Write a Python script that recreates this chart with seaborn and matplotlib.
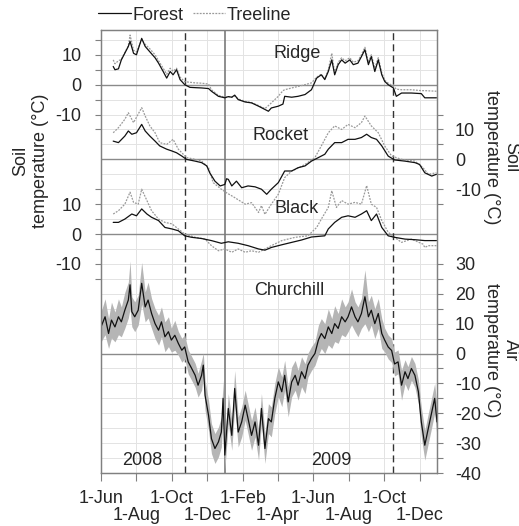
import numpy as np
import pandas as pd
import matplotlib
matplotlib.use("Agg")
import matplotlib.pyplot as plt
from matplotlib.lines import Line2D
import seaborn as sns

# ---------------- data (days since 1-Jun-2008, temperatures in degC) ----------------
START = "2008-06-01"
END = "2009-12-31"

tick_dates = ["2008-06-01", "2008-08-01", "2008-10-01", "2008-12-01", "2009-02-01",
              "2009-04-01", "2009-06-01", "2009-08-01", "2009-10-01", "2009-12-01"]
tick_labels = ["1-Jun", "1-Aug", "1-Oct", "1-Dec", "1-Feb", "1-Apr", "1-Jun", "1-Aug", "1-Oct", "1-Dec"]
freeze_dates = ["2008-10-24", "2009-10-17"]
year_break = "2009-01-01"
year_labels = ["2008", "2009"]
site_names = ["Ridge", "Rocket", "Black", "Churchill"]
series_names = ["Forest", "Treeline"]

ridge_days = [21, 24, 30, 35, 47, 50, 56, 61, 70, 76, 84, 93, 99, 107, 113, 119, 124, 130, 136, 144,
              153, 162, 173, 185, 190, 202, 213, 219, 225, 230, 236, 248, 259, 271, 282, 288, 293, 305, 313, 316,
              328, 339, 351, 362, 371, 379, 385, 391, 397, 402, 408, 414, 420, 428, 434, 442, 448, 454, 460, 465,
              471, 477, 483, 488, 494, 503, 508, 517, 534, 551, 557, 577]
ridge_forest = [6.1, 5.0, 5.3, 8.3, 12.8, 14.5, 10.5, 10.0, 15.5, 12.8,
                11.0, 9.0, 7.2, 4.4, 2.2, 4.4, 3.3, 5.0, 1.7, 0.0,
                -0.9, -1.0, -1.1, -1.3, -2.2, -3.9, -4.4, -4.0, -4.2, -3.5,
                -5.0, -5.8, -6.1, -7.2, -8.3, -8.9, -7.8, -7.2, -6.5, -3.9,
                -4.2, -3.9, -3.3, -1.7, 2.2, 3.3, 1.7, 4.4, 8.3, 3.3,
                6.7, 8.3, 7.2, 8.3, 6.7, 7.2, 9.4, 11.7, 6.7, 9.4,
                4.4, 8.3, 3.3, 1.1, 0.0, -1.1, -3.9, -2.8, -2.8, -3.0,
                -4.4, -4.4]
ridge_treeline = [8.3, 7.0, 8.0, 8.5, 13.0, 16.6, 11.5, 11.0, 15.0, 13.5,
                  12.0, 10.0, 8.0, 5.5, 3.5, 5.5, 4.5, 5.5, 2.5, 1.0,
                  0.8, 0.6, 0.5, 0.2, -1.7, -3.6, -4.2, -4.0, -4.2, -3.8,
                  -4.8, -5.6, -6.0, -7.0, -8.0, -7.0, -6.1, -3.9, -2.0, -1.7,
                  -1.1, -0.6, 0.0, 0.6, 2.5, 3.5, 2.0, 5.0, 10.5, 4.0,
                  7.5, 9.0, 8.0, 9.0, 7.5, 8.0, 10.0, 12.5, 7.5, 10.0,
                  5.5, 9.0, 4.0, 1.5, 0.5, -0.5, -1.5, -1.7, -1.7, -2.0,
                  -2.0, -2.2]

rocket_forest_days = [21, 30, 41, 47, 53, 61, 70, 76, 84, 93, 101, 113, 122, 130, 139, 147, 162, 173, 182, 187,
                      196, 205, 213, 216, 219, 225, 233, 242, 253, 265, 276, 285, 293, 305, 316, 328, 339, 351, 362, 374,
                      385, 391, 402, 414, 425, 437, 448, 457, 465, 474, 483, 494, 505, 523, 540, 548, 557, 569, 577]
rocket_forest = [6.1, 5.6, 7.8, 9.5, 8.4, 8.9, 11.7, 9.5, 7.8, 6.1,
                 4.5, 3.4, 2.8, 2.2, 1.1, 0.0, -0.6, -1.1, -2.2, -4.5,
                 -7.3, -8.9, -8.4, -6.5, -6.7, -8.9, -7.3, -9.5, -8.9, -9.2,
                 -10.0, -11.7, -10.0, -7.8, -3.9, -3.9, -2.8, -2.2, -0.6, 0.6,
                 1.7, 3.4, 5.6, 5.6, 6.7, 6.7, 7.3, 8.4, 7.3, 6.7,
                 4.5, 1.1, -0.2, -0.6, -1.1, -1.7, -4.5, -5.6, -5.0]
rocket_tl_days = [21, 30, 41, 47, 56, 70, 76, 84, 93, 101, 113, 124, 133, 147, 162, 173, 185, 193, 207, 216,
                  230, 248, 259, 271, 276, 282, 293, 305, 316, 328, 334, 351, 368, 379, 391, 402, 414, 425, 437, 448,
                  454, 465, 477, 488, 500, 517, 540, 554, 563, 577]
rocket_treeline = [8.9, 10.6, 13.4, 15.6, 12.3, 17.3, 14.5, 11.2, 8.9, 5.6,
                   5.0, 6.7, 3.4, 0.6, 0.0, -0.6, -2.8, -7.8, -10.0, -11.2,
                   -12.8, -15.0, -14.5, -17.8, -15.5, -18.4, -15.0, -11.7, -6.1, -3.9,
                   -3.4, -1.7, 0.6, 4.5, 8.9, 11.2, 10.0, 11.7, 10.6, 12.3,
                   14.5, 11.2, 8.9, 4.5, 1.1, 0.0, -0.6, -2.8, -5.0, -4.5]

black_forest_days = [21, 30, 41, 53, 61, 70, 79, 87, 99, 110, 122, 133, 144, 156, 173, 190, 207, 219, 236, 253,
                     271, 282, 293, 311, 328, 345, 362, 385, 391, 402, 414, 425, 437, 448, 457, 465, 474, 483, 494, 505,
                     523, 540, 557, 577]
black_forest = [3.9, 3.9, 5.0, 6.7, 6.1, 8.4, 6.7, 5.6, 4.5, 2.2,
                1.7, 1.1, -0.6, -1.1, -1.5, -2.2, -3.1, -2.6, -3.1, -3.9,
                -5.0, -5.4, -4.5, -3.6, -2.8, -2.0, -1.0, -0.6, 1.7, 3.9,
                5.6, 6.1, 5.6, 6.7, 7.8, 4.5, 6.7, 2.2, -0.6, -1.1,
                -1.7, -1.9, -2.2, -2.2]
black_tl_days = [21, 30, 41, 50, 56, 64, 70, 79, 87, 99, 110, 122, 133, 144, 162, 179, 190, 202, 213, 225,
                 236, 248, 259, 271, 282, 293, 311, 334, 356, 371, 379, 391, 397, 405, 414, 425, 437, 448, 457, 465,
                 474, 483, 494, 505, 517, 534, 554, 557, 563, 577]
black_treeline = [6.7, 7.8, 10.0, 14.0, 10.6, 10.0, 15.0, 11.2, 7.8, 5.0,
                  3.9, 3.4, 1.7, 0.0, -1.1, -1.7, -3.9, -5.6, -5.0, -6.1,
                  -5.0, -6.1, -5.6, -6.1, -5.0, -3.9, -2.2, -1.1, -0.6, 2.2,
                  5.0, 8.9, 14.5, 8.9, 11.2, 10.0, 10.6, 10.0, 16.2, 10.0,
                  8.9, 4.5, 0.6, -1.1, -2.8, -1.7, -3.4, -4.5, -3.9, -3.9]

air_days = [0, 7, 13, 18, 24, 30, 35, 41, 47, 50, 53, 58, 64, 70, 76, 81, 87, 93, 99, 104,
            110, 116, 121, 127, 133, 139, 144, 150, 156, 162, 167, 173, 176, 179, 185, 190, 196, 202, 207, 210,
            213, 219, 225, 230, 236, 242, 248, 253, 259, 265, 271, 276, 282, 288, 293, 299, 305, 311, 316, 322,
            328, 334, 339, 345, 351, 356, 362, 368, 374, 379, 385, 391, 397, 402, 408, 414, 420, 425, 431, 437,
            442, 448, 454, 460, 465, 471, 477, 483, 488, 494, 500, 505, 511, 517, 523, 528, 534, 540, 546, 551,
            557, 563, 569, 574, 578]
air_mean = [8.9, 12.3, 6.7, 11.2, 8.9, 12.3, 10.6, 14.5, 17.9, 23.0,
            14.0, 12.3, 14.5, 23.5, 15.6, 17.9, 13.4, 10.0, 7.8, 10.6,
            5.6, 7.3, 4.5, 6.1, 3.4, 1.1, 2.2, -2.8, -5.0, -7.3,
            -10.6, -7.3, -3.9, -14.0, -20.7, -28.5, -31.8, -29.6, -26.3, -15.0,
            -34.0, -18.4, -27.4, -11.7, -26.3, -22.9, -17.3, -21.8, -27.4, -22.9,
            -30.7, -18.4, -31.8, -21.8, -22.9, -15.0, -9.5, -12.8, -7.3, -16.2,
            -9.5, -7.3, -10.6, -6.1, -8.4, -3.9, -1.7, 0.0, 4.5, 6.7,
            5.0, 8.9, 6.7, 10.0, 8.4, 12.3, 10.6, 12.3, 15.6, 12.3,
            10.6, 13.4, 19.0, 12.3, 14.5, 10.0, 13.4, 6.7, 4.5, 2.2,
            1.0, -3.5, -2.8, -10.6, -6.1, -8.4, -5.0, -7.3, -12.8, -22.9,
            -30.7, -25.1, -19.6, -15.0, -22.9]
air_spread = [5, 6, 5, 6, 5, 6, 5, 6, 6, 8,
              5, 5, 5, 7, 5, 6, 5, 5, 5, 5,
              5, 5, 4, 5, 4, 4, 4, 4, 4, 4,
              4, 5, 4, 5, 5, 5, 5, 5, 5, 6,
              5, 5, 5, 6, 5, 5, 5, 5, 5, 5,
              5, 5, 5, 5, 5, 5, 5, 5, 5, 5,
              5, 5, 5, 5, 5, 4, 4, 4, 5, 5,
              5, 6, 5, 6, 5, 6, 5, 5, 6, 5,
              5, 5, 9, 5, 5, 5, 5, 5, 4, 4,
              4, 4, 4, 5, 4, 4, 4, 4, 4, 5,
              5, 5, 5, 5, 5]

# ---------------- style ----------------
sns.set_style("white")
plt.rcParams["font.family"] = ["Liberation Sans", "DejaVu Sans"]
plt.rcParams["font.size"] = 13
FS = 13
GRAY = "#808080"

W, H = 519, 526
fig = plt.figure(figsize=(W / 100, H / 100), dpi=100)
L, R, T, B = 101, 437, 30, 473
ax = fig.add_axes([L / W, 1 - B / H, (R - L) / W, (B - T) / H])

t0 = pd.Timestamp(START)


def to_dates(days):
    return t0 + pd.to_timedelta(np.asarray(days, dtype=float), unit="D")


YMIN, YMAX = -40, 108.3
ax.set_xlim(t0, pd.Timestamp(END))
ax.set_ylim(YMIN, YMAX)

# grid
for v in np.arange(-40, 110, 5):
    ax.axhline(v, color="#e3e3e3", lw=0.7, zorder=0)
for d in tick_dates:
    ax.axvline(pd.Timestamp(d), color="#e3e3e3", lw=0.7, zorder=0)

# panel offsets (layout)
offsets = {"Ridge": 90, "Rocket": 65, "Black": 40, "Churchill": 0}
for name, off in offsets.items():
    ax.axhline(off, color="#8a8a8a", lw=1.0, zorder=1)

ax.axvline(pd.Timestamp(year_break), color="#7a7a7a", lw=1.2, zorder=1)
for d in freeze_dates:
    ax.axvline(pd.Timestamp(d), color="#333333", lw=1.0, ls=(0, (5, 3)), zorder=1)

tl_style = dict(color="#9a9a9a", lw=0.9, linestyle=(0, (1.5, 1)))
fo_style = dict(color="#111111", lw=0.9)

soil = [
    ("Ridge", ridge_days, ridge_forest, ridge_days, ridge_treeline),
    ("Rocket", rocket_forest_days, rocket_forest, rocket_tl_days, rocket_treeline),
    ("Black", black_forest_days, black_forest, black_tl_days, black_treeline),
]
for name, fd, fv, td, tv in soil:
    off = offsets[name]
    sns.lineplot(x=to_dates(td), y=np.asarray(tv) + off, ax=ax, estimator=None,
                 sort=False, zorder=3, **tl_style)
    sns.lineplot(x=to_dates(fd), y=np.asarray(fv) + off, ax=ax, estimator=None,
                 sort=False, zorder=4, **fo_style)

# Churchill air temperature with daily range band
ad = to_dates(air_days)
am = np.asarray(air_mean)
sp = np.asarray(air_spread)
ax.fill_between(ad, am - sp, am + sp, color="#b5b5b5", lw=0, zorder=2)
sns.lineplot(x=ad, y=am, ax=ax, estimator=None, sort=False, color="#111111", lw=0.9, zorder=4)

# ticks - x : two staggered rows (major = upper row, minor = lower row)
row1 = [pd.Timestamp(d) for d in tick_dates[0::2]]
row2 = [pd.Timestamp(d) for d in tick_dates[1::2]]
ax.set_xticks(row1)
ax.set_xticklabels(tick_labels[0::2])
ax.set_xticks(row2, minor=True)
ax.set_xticklabels(tick_labels[1::2], minor=True)
ax.tick_params(axis="x", which="major", bottom=True, length=6, width=0.8, color=GRAY, pad=6, labelsize=FS)
ax.tick_params(axis="x", which="minor", bottom=True, length=6, width=0.8, color=GRAY, pad=18.5, labelsize=FS)

# ticks - left (Ridge, Black)
ax.set_yticks([80, 90, 100, 30, 40, 50])
ax.set_yticklabels(["-10", "0", "10", "-10", "0", "10"])
ax.set_yticks([75, 85, 95, 105, 25, 35, 45, 55], minor=True)
ax.tick_params(axis="y", which="both", left=True, length=4, width=0.8, color=GRAY, pad=10, labelsize=FS)

# ticks - right (Rocket, Churchill)
ax2 = ax.twinx()
ax2.set_ylim(YMIN, YMAX)
ax2.set_yticks([55, 65, 75] + list(range(-40, 31, 10)))
ax2.set_yticklabels(["-10", "0", "10"] + [str(v) for v in range(-40, 31, 10)])
ax2.set_yticks([50, 60, 70, 80] + list(range(-35, 26, 10)), minor=True)
ax2.tick_params(axis="y", which="both", right=True, length=4, width=0.8, color=GRAY, pad=9, labelsize=FS)
ax2.grid(False)

for a in (ax, ax2):
    for s in a.spines.values():
        s.set_color(GRAY)
        s.set_linewidth(0.9)
ax.set_xlabel("")
ax.set_ylabel("")
ax2.set_ylabel("")

# panel labels (axes fraction positions)
label_pos = {"Ridge": (0.583, 0.946), "Rocket": (0.534, 0.761),
             "Black": (0.583, 0.596), "Churchill": (0.560, 0.413)}
for name in site_names:
    x, y = label_pos[name]
    ax.text(x, y, name, transform=ax.transAxes, ha="center", va="center", fontsize=FS, zorder=6)
for lab, x in zip(year_labels, (0.1235, 0.6845)):
    ax.text(x, 0.029, lab, transform=ax.transAxes, ha="center", va="center", fontsize=FS, zorder=6)

# axis titles
fig.text(31 / W, 1 - 161 / H, "Soil\ntemperature (°C)", rotation=90, ha="center", va="center",
         multialignment="center", fontsize=FS, linespacing=1.2)
fig.text(501 / W, 1 - 157 / H, "Soil\ntemperature (°C)", rotation=270, ha="center", va="center",
         multialignment="center", fontsize=FS, linespacing=1.2)
fig.text(501 / W, 1 - 350 / H, "Air\ntemperature (°C)", rotation=270, ha="center", va="center",
         multialignment="center", fontsize=FS, linespacing=1.2)

# legend
handles = [Line2D([], [], **fo_style), Line2D([], [], **tl_style)]
fig.legend(handles, series_names, loc="center", bbox_to_anchor=(195 / W, 1 - 15 / H), ncol=2,
           frameon=False, fontsize=FS, handlelength=1.8, handletextpad=0.1, columnspacing=0.5,
           borderaxespad=0, borderpad=0)

fig.savefig("out.png", dpi=100)
